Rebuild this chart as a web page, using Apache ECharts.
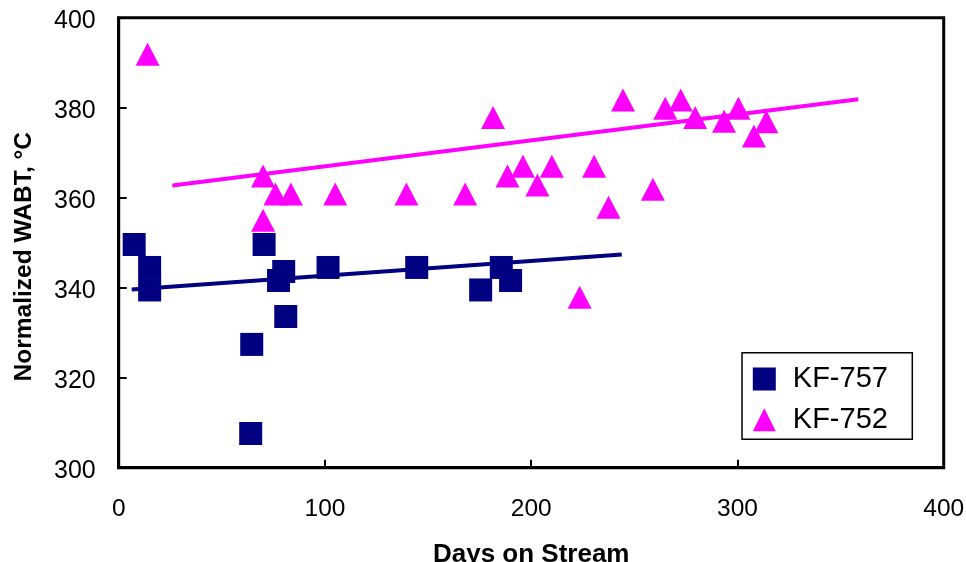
<!DOCTYPE html>
<html>
<head>
<meta charset="utf-8">
<script src="https://cdn.jsdelivr.net/npm/echarts@6/dist/echarts.min.js"></script>
<style>
html,body{margin:0;padding:0;background:#fff;}
#chart{width:966px;height:562px;}
</style>
</head>
<body>
<div id="chart"></div>
<script>
// KF-757 (squares)
const kf757Days = [7.5, 15, 15, 70.5, 80, 77.5, 81, 64.5, 64, 101.5, 144.5, 175.5, 185.5, 190];
const kf757Wabt = [349.6, 344.5, 339.5, 349.6, 343.6, 341.6, 333.6, 327.4, 307.6, 344.5, 344.5, 339.5, 344.5, 341.6];
// KF-752 (triangles)
const kf752Days = [14, 70, 70, 76, 83.5, 105, 139.5, 168, 181.5, 188.5, 196, 203, 210, 230.5, 237.5, 259, 223.5, 244.5, 265, 272.5, 279.5, 293.5, 300.5, 308, 314];
const kf752Wabt = [391.9, 364.8, 355, 360.8, 360.8, 360.8, 360.8, 360.8, 377.8, 364.8, 367, 362.8, 367, 367, 357.9, 361.9, 337.9, 381.7, 379.9, 381.7, 377.8, 377, 379.9, 373.7, 376.9];
// Trend line endpoints
const trend757Days = [6.3, 243.9];
const trend757Wabt = [339.6, 347.4];
const trend752Days = [26, 358.6];
const trend752Wabt = [362.7, 381.9];
// Axis ticks
const xTicks = [0, 100, 200, 300, 400];
const yTicks = [300, 320, 340, 360, 380, 400];

const zip = (a, b) => a.map((v, i) => [v, b[i]]);
const FONT = "'Liberation Sans', Arial, sans-serif";
const NAVY = '#000080';
const MAGENTA = '#FF00FF';

const chart = echarts.init(document.getElementById('chart'), null, {renderer: 'canvas'});
chart.setOption({
  animation: false,
  backgroundColor: '#fff',
  grid: {
    left: 118.7, right: 22.3, top: 17.7, bottom: 94.3,
    containLabel: false, outerBoundsMode: 'none',
    show: true, borderColor: '#000', borderWidth: 3, backgroundColor: 'transparent'
  },
  xAxis: {
    type: 'value',
    min: xTicks[0], max: xTicks[xTicks.length - 1], interval: 100,
    name: 'Days on Stream', nameLocation: 'middle', nameGap: 74,
    nameTextStyle: {fontFamily: FONT, fontSize: 26, fontWeight: 'bold', color: '#000'},
    axisLine: {show: true, lineStyle: {color: '#000', width: 3}},
    axisTick: {show: true, inside: true, length: 8, lineStyle: {color: '#000', width: 2}},
    axisLabel: {fontFamily: FONT, fontSize: 24.5, color: '#000', margin: 29},
    splitLine: {show: false}
  },
  yAxis: {
    type: 'value',
    min: yTicks[0], max: yTicks[yTicks.length - 1], interval: 20,
    name: 'Normalized WABT, °C', nameLocation: 'middle', nameGap: 82,
    nameTextStyle: {fontFamily: FONT, fontSize: 24.5, fontWeight: 'bold', color: '#000', padding: [0, 28, 0, 0]},
    axisLine: {show: true, lineStyle: {color: '#000', width: 3}},
    axisTick: {show: true, inside: true, length: 8, lineStyle: {color: '#000', width: 2}},
    axisLabel: {
      fontFamily: FONT, fontSize: 25, color: '#000', margin: 23,
      formatter: '{v|{value}}',
      rich: {v: {fontFamily: FONT, fontSize: 25, color: '#000', padding: [7, 0, 0, 0]}}
    },
    splitLine: {show: false}
  },
  legend: {
    data: ['KF-757', 'KF-752'],
    orient: 'vertical',
    left: 752.8, top: 364.5,
    padding: 0,
    itemWidth: 23, itemHeight: 23, itemGap: 11.8,
    symbolKeepAspect: true,
    formatter: '{t|{name}}',
    textStyle: {
      fontFamily: FONT, fontSize: 29, color: '#000',
      rich: {t: {fontFamily: FONT, fontSize: 29, color: '#000', padding: [0, 0, 0, 12]}}
    },
    selectedMode: false
  },
  graphic: [{
    type: 'rect',
    shape: {x: 742, y: 352.7, width: 170.3, height: 86.6},
    style: {fill: 'none', stroke: '#000', lineWidth: 1.5},
    z: 0, silent: true
  }],
  series: [
    {
      name: 'KF-757-trend', type: 'line', data: zip(trend757Days, trend757Wabt),
      showSymbol: false, lineStyle: {color: NAVY, width: 4}, z: 1
    },
    {
      name: 'KF-752-trend', type: 'line', data: zip(trend752Days, trend752Wabt),
      showSymbol: false, lineStyle: {color: MAGENTA, width: 4}, z: 1
    },
    {
      name: 'KF-757', type: 'scatter', data: zip(kf757Days, kf757Wabt),
      symbol: 'rect', symbolSize: 23, symbolKeepAspect: true,
      itemStyle: {color: NAVY, opacity: 1}, z: 2
    },
    {
      name: 'KF-752', type: 'scatter', data: zip(kf752Days, kf752Wabt),
      symbol: 'triangle', symbolSize: [24, 23], symbolKeepAspect: true,
      itemStyle: {color: MAGENTA, opacity: 1}, z: 2
    }
  ]
});
</script>
</body>
</html>
